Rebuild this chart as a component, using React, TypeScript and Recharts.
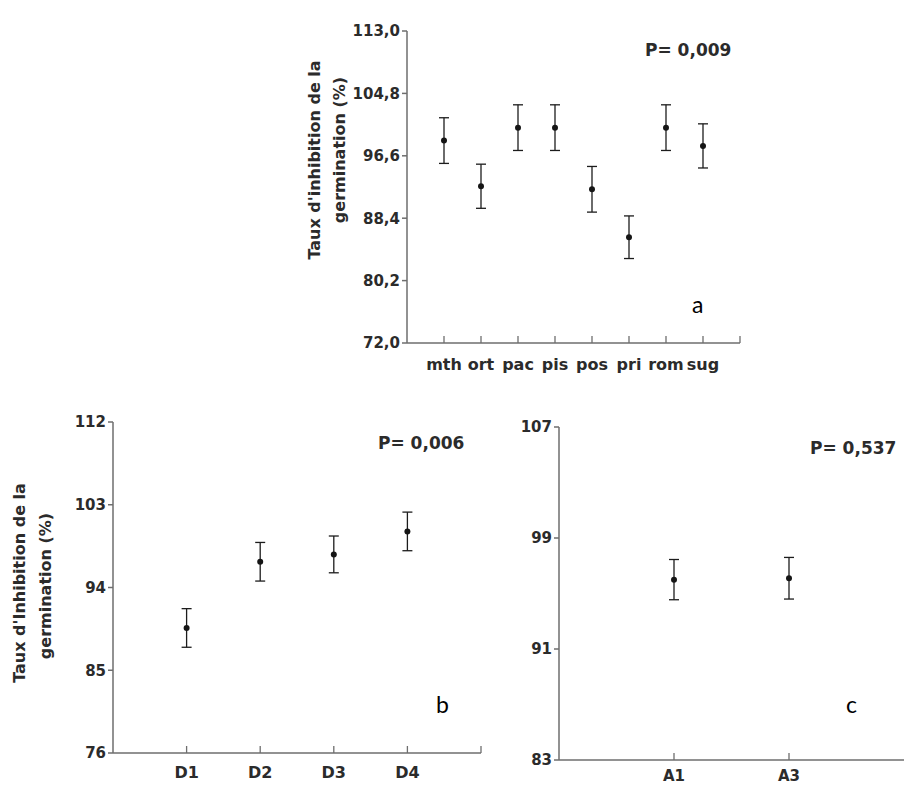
import { ScatterChart, Scatter, XAxis, YAxis, ErrorBar } from 'recharts';

// panel a: extracts
const catA = ['mth', 'ort', 'pac', 'pis', 'pos', 'pri', 'rom', 'sug'];
const meanA = [98.6, 92.6, 100.3, 100.3, 92.2, 85.9, 100.3, 97.9];
const errA = [3.0, 2.9, 3.0, 3.0, 3.0, 2.8, 3.0, 2.9];
const ticksA = [72, 80.2, 88.4, 96.6, 104.8, 113];

// panel b: doses
const catB = ['D1', 'D2', 'D3', 'D4'];
const meanB = [89.6, 96.8, 97.6, 100.1];
const errB = [2.1, 2.1, 2.0, 2.1];
const ticksB = [76, 85, 94, 103, 112];

// panel c: years
const catC = ['A1', 'A3'];
const meanC = [96.0, 96.1];
const errC = [1.45, 1.5];
const ticksC = [83, 91, 99, 107];

const pLabels = ['P= 0,009', 'P= 0,006', 'P= 0,537'];

const FONT = 'DejaVu Sans, Arial, sans-serif';
const AXIS = '#6e6e6e';
const INK = '#2b2b2b';

const toRows = (cats: string[], mean: number[], err: number[]) =>
  cats.map((_, i) => ({ x: i + 1, y: mean[i], err: err[i] }));

function XTick(props: any) {
  const { x, y, payload, cats, labelDy, fontSize } = props;
  const label = cats[payload.value - 1] ?? '';
  return (
    <g>
      <line x1={x} x2={x} y1={y} y2={y - 7} stroke={AXIS} strokeWidth={1.3} />
      <text x={x} y={y + labelDy} textAnchor="middle" fill={INK} fontSize={fontSize} fontWeight="bold" fontFamily={FONT}>
        {label}
      </text>
    </g>
  );
}

const Dot = (p: any) => <circle cx={p.cx} cy={p.cy} r={3} fill="#151515" />;

interface PanelProps {
  left: number;
  top: number;
  width: number;
  height: number;
  margin: { top: number; right: number; bottom: number; left: number };
  yWidth: number;
  xHeight: number;
  cats: string[];
  mean: number[];
  err: number[];
  yTicks: number[];
  xMax: number;
  xTicks: number[];
  decimals: number;
  labelDy: number;
  xFont: number;
}

function Panel(p: PanelProps) {
  const rows = toRows(p.cats, p.mean, p.err);
  return (
    <div style={{ position: 'absolute', left: p.left, top: p.top }}>
      <ScatterChart width={p.width} height={p.height} margin={p.margin}>
        <XAxis
          type="number"
          dataKey="x"
          domain={[0, p.xMax]}
          ticks={p.xTicks}
          interval={0}
          height={p.xHeight}
          stroke={AXIS}
          strokeWidth={1.5}
          tickLine={false}
          tickSize={0}
          tickMargin={0}
          tick={(t: any) => <XTick {...t} cats={p.cats} labelDy={p.labelDy} fontSize={p.xFont} />}
        />
        <YAxis
          type="number"
          dataKey="y"
          domain={[p.yTicks[0], p.yTicks[p.yTicks.length - 1]]}
          ticks={p.yTicks}
          interval={0}
          width={p.yWidth}
          stroke={AXIS}
          strokeWidth={1.5}
          tickSize={5}
          tickMargin={2}
          tick={{ fill: INK, fontSize: 15, fontWeight: 'bold', fontFamily: FONT }}
          tickFormatter={(v: number) => v.toFixed(p.decimals).replace('.', ',')}
        />
        <Scatter data={rows} dataKey="y" shape={Dot} isAnimationActive={false}>
          <ErrorBar dataKey="err" direction="y" width={5} stroke="#1c1c1c" strokeWidth={1.3} isAnimationActive={false} />
        </Scatter>
      </ScatterChart>
    </div>
  );
}

function YTitle({ x1, c1, x2, c2, first }: { x1: number; c1: number; x2: number; c2: number; first: string }) {
  const style = { fill: INK, fontSize: 16, fontWeight: 'bold' as const, fontFamily: FONT };
  return (
    <g>
      <text transform={`translate(${x1},${c1}) rotate(-90)`} textAnchor="middle" {...style}>
        {first}
      </text>
      <text transform={`translate(${x2},${c2}) rotate(-90)`} textAnchor="middle" {...style}>
        germination (%)
      </text>
    </g>
  );
}

export default function App() {
  const pStyle = { fill: INK, fontSize: 17, fontWeight: 'bold' as const, fontFamily: FONT };
  const letterStyle = { fill: '#000', fontSize: 23, fontFamily: 'Lato, Open Sans, sans-serif' };
  return (
    <div style={{ position: 'absolute', left: 0, top: 0, width: 905, height: 787, overflow: 'hidden', background: '#fff' }}>
      <Panel
        left={300} top={0} width={480} height={380}
        margin={{ top: 31, right: 40, bottom: 2, left: 0 }}
        yWidth={107} xHeight={35}
        cats={catA} mean={meanA} err={errA} yTicks={ticksA}
        xMax={9} xTicks={[1, 2, 3, 4, 5, 6, 7, 8, 9]} decimals={1} labelDy={27} xFont={16}
      />
      <Panel
        left={0} top={400} width={500} height={387}
        margin={{ top: 22, right: 19, bottom: 0, left: 0 }}
        yWidth={113} xHeight={34}
        cats={catB} mean={meanB} err={errB} yTicks={ticksB}
        xMax={5} xTicks={[1, 2, 3, 4, 5]} decimals={0} labelDy={25} xFont={16}
      />
      <Panel
        left={480} top={400} width={425} height={387}
        margin={{ top: 27, right: 1, bottom: 0, left: 0 }}
        yWidth={79} xHeight={27}
        cats={catC} mean={meanC} err={errC} yTicks={ticksC}
        xMax={3} xTicks={[1, 2]} decimals={0} labelDy={21} xFont={15}
      />
      <svg width={905} height={787} style={{ position: 'absolute', left: 0, top: 0, pointerEvents: 'none' }}>
        <YTitle x1={320} c1={160} x2={345} c2={150} first="Taux d'inhibition de la" />
        <YTitle x1={25} c1={583} x2={51} c2={586} first="Taux d'Inhibition de la" />
        <text x={645} y={56} {...pStyle}>{pLabels[0]}</text>
        <text x={378} y={449} {...pStyle}>{pLabels[1]}</text>
        <text x={810} y={454} {...pStyle}>{pLabels[2]}</text>
        <text x={692} y={313} {...letterStyle}>a</text>
        <text x={436} y={713} {...letterStyle}>b</text>
        <text x={846} y={713} {...letterStyle}>c</text>
      </svg>
    </div>
  );
}
